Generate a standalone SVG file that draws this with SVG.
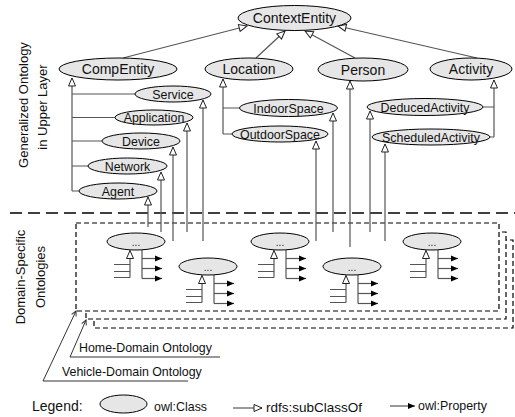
<svg xmlns="http://www.w3.org/2000/svg" width="515" height="417" viewBox="0 0 515 417">
<defs>
<style>
text{font-family:"Liberation Sans",Arial,sans-serif;fill:#111}
.n ellipse, ellipse.n{fill:#e6e6e6;stroke:#000;stroke-width:1}
.b{font-size:14px;text-anchor:middle}
.s{font-size:12.4px;text-anchor:middle}
.lab{font-size:13px;text-anchor:middle}
.dots{font-size:10px;text-anchor:middle}
.c line,.c path,.d line,.d path{stroke:#555;stroke-width:1.2;fill:none}
.box{fill:#fff;stroke:#000;stroke-width:1.2;stroke-dasharray:5,3}
.sep{stroke:#000;stroke-width:1.3;stroke-dasharray:12,6}
.ptr{stroke:#333;stroke-width:1;fill:none}
</style>
<marker id="tri" viewBox="-9 -5 10 10" markerWidth="10" markerHeight="10" refX="0" refY="0" orient="auto" markerUnits="userSpaceOnUse" overflow="visible">
<path d="M0,0 L-8,-3.5 L-8,3.5 Z" fill="#fff" stroke="#222" stroke-width="1"/>
</marker>
<marker id="arr" viewBox="-8 -4 9 8" markerWidth="9" markerHeight="8" refX="0" refY="0" orient="auto" markerUnits="userSpaceOnUse" overflow="visible">
<path d="M0,0 L-7,-3 L-7,3 Z" fill="#000" stroke="none"/>
</marker>
<marker id="open" viewBox="-7 -4 8 8" markerWidth="8" markerHeight="8" refX="0" refY="0" orient="auto" markerUnits="userSpaceOnUse" overflow="visible">
<path d="M-5,-2.5 L0,0 L-5,2.5" fill="none" stroke="#333" stroke-width="1"/>
</marker>
</defs>
<rect width="515" height="417" fill="#fff"/>

<!-- side labels -->
<g id="label-upper">
<text class="lab" transform="translate(28,105) rotate(-90)">Generalized Ontology</text>
<text class="lab" transform="translate(46.5,107) rotate(-90)">in Upper Layer</text>
</g>
<g id="label-domain">
<text class="lab" transform="translate(25,277) rotate(-90)">Domain-Specific</text>
<text class="lab" transform="translate(44.5,277) rotate(-90)">Ontologies</text>
</g>

<!-- separator -->
<line class="sep" x1="10" y1="213" x2="515" y2="213"/>

<!-- domain boxes -->
<g id="domain-boxes">
<rect class="box" x="94" y="240" width="419" height="88"/>
<rect class="box" x="86" y="232" width="420" height="87"/>
<rect class="box" x="76" y="223" width="423" height="88"/>
</g>

<!-- connectors -->
<g id="connectors" class="c">
<line x1="123" y1="58" x2="247" y2="26" marker-end="url(#tri)"/>
<line x1="256" y1="58" x2="285" y2="31" marker-end="url(#tri)"/>
<line x1="355" y1="58" x2="305" y2="31" marker-end="url(#tri)"/>
<line x1="477" y1="58" x2="338" y2="26" marker-end="url(#tri)"/>
<!-- CompEntity tree -->
<line x1="72" y1="191" x2="72" y2="78" marker-end="url(#tri)"/>
<path d="M72,94 H135 M72,117.5 H115 M72,141 H102 M72,166 H88 M72,191 H79"/>
<!-- Location tree -->
<line x1="223" y1="134" x2="223" y2="79" marker-end="url(#tri)"/>
<path d="M223,108 H240 M223,134 H232"/>
<!-- Activity tree -->
<line x1="494" y1="137" x2="494" y2="80" marker-end="url(#tri)"/>
<path d="M494,107 H483 M494,137 H490"/>
<!-- domain to upper -->
<line x1="148" y1="227" x2="148" y2="197" marker-end="url(#tri)"/>
<line x1="161" y1="232" x2="161" y2="172" marker-end="url(#tri)"/>
<line x1="173" y1="241" x2="173" y2="147" marker-end="url(#tri)"/>
<line x1="187" y1="232" x2="187" y2="123" marker-end="url(#tri)"/>
<line x1="203" y1="241" x2="203" y2="100" marker-end="url(#tri)"/>
<line x1="316" y1="241" x2="316" y2="141" marker-end="url(#tri)"/>
<line x1="333" y1="232" x2="333" y2="113" marker-end="url(#tri)"/>
<line x1="350" y1="247" x2="350" y2="81" marker-end="url(#tri)"/>
<line x1="370" y1="232" x2="370" y2="111" marker-end="url(#tri)"/>
<line x1="385" y1="241" x2="385" y2="144" marker-end="url(#tri)"/>
</g>

<!-- upper nodes -->
<g id="ContextEntity" class="n"><ellipse cx="294.5" cy="18" rx="56.5" ry="12.5"/><text class="b" x="294.5" y="23">ContextEntity</text></g>
<g id="CompEntity" class="n"><ellipse cx="118" cy="69" rx="59" ry="11"/><text class="b" x="118" y="74">CompEntity</text></g>
<g id="Location" class="n"><ellipse cx="249" cy="69" rx="44" ry="11"/><text class="b" x="249" y="74">Location</text></g>
<g id="Person" class="n"><ellipse cx="363" cy="69.5" rx="45" ry="11.5"/><text class="b" x="363" y="74.5">Person</text></g>
<g id="Activity" class="n"><ellipse cx="471" cy="69" rx="41" ry="11"/><text class="b" x="471" y="74">Activity</text></g>
<g id="Service" class="n"><ellipse cx="173" cy="94" rx="38" ry="8"/><text class="s" x="173" y="98.5">Service</text></g>
<g id="Application" class="n"><ellipse cx="154" cy="117.5" rx="39" ry="7.5"/><text class="s" x="154" y="122">Application</text></g>
<g id="Device" class="n"><ellipse cx="141" cy="141" rx="39" ry="8"/><text class="s" x="141" y="145.5">Device</text></g>
<g id="Network" class="n"><ellipse cx="127.5" cy="166" rx="39.5" ry="8"/><text class="s" x="127.5" y="170.5">Network</text></g>
<g id="Agent" class="n"><ellipse cx="118" cy="191" rx="39" ry="8"/><text class="s" x="118" y="195.5">Agent</text></g>
<g id="IndoorSpace" class="n"><ellipse cx="288.5" cy="108" rx="49" ry="8.5"/><text class="s" x="288.5" y="112.5">IndoorSpace</text></g>
<g id="OutdoorSpace" class="n"><ellipse cx="280" cy="134" rx="48" ry="8"/><text class="s" x="280" y="138.5">OutdoorSpace</text></g>
<g id="DeducedActivity" class="n"><ellipse cx="425" cy="107" rx="58" ry="8.5"/><text class="s" x="425" y="111.5">DeducedActivity</text></g>
<g id="ScheduledActivity" class="n"><ellipse cx="431" cy="137" rx="59" ry="8"/><text class="s" x="431" y="141.5">ScheduledActivity</text></g>

<!-- domain nodes -->
<g id="dom1" class="d n" transform="translate(136,241.5)">
<line x1="-6" y1="36" x2="-6" y2="9" marker-end="url(#tri)"/><path d="M-22,23 H-6 M-22,30 H-6 M-22,36 H-6"/>
<line x1="6" y1="8" x2="6" y2="37"/><line x1="6" y1="17" x2="26" y2="17" marker-end="url(#arr)"/><line x1="6" y1="27" x2="26" y2="27" marker-end="url(#arr)"/><line x1="6" y1="37" x2="26" y2="37" marker-end="url(#arr)"/>
<ellipse rx="29" ry="8.5"/><text class="dots" y="4">...</text></g>
<g id="dom2" class="d n" transform="translate(208,266.5)">
<line x1="-6" y1="36" x2="-6" y2="9" marker-end="url(#tri)"/><path d="M-22,23 H-6 M-22,30 H-6 M-22,36 H-6"/>
<line x1="6" y1="8" x2="6" y2="37"/><line x1="6" y1="17" x2="26" y2="17" marker-end="url(#arr)"/><line x1="6" y1="27" x2="26" y2="27" marker-end="url(#arr)"/><line x1="6" y1="37" x2="26" y2="37" marker-end="url(#arr)"/>
<ellipse rx="29" ry="8.5"/><text class="dots" y="4">...</text></g>
<g id="dom3" class="d n" transform="translate(280,241.5)">
<line x1="-6" y1="36" x2="-6" y2="9" marker-end="url(#tri)"/><path d="M-22,23 H-6 M-22,30 H-6 M-22,36 H-6"/>
<line x1="6" y1="8" x2="6" y2="37"/><line x1="6" y1="17" x2="26" y2="17" marker-end="url(#arr)"/><line x1="6" y1="27" x2="26" y2="27" marker-end="url(#arr)"/><line x1="6" y1="37" x2="26" y2="37" marker-end="url(#arr)"/>
<ellipse rx="29" ry="8.5"/><text class="dots" y="4">...</text></g>
<g id="dom4" class="d n" transform="translate(352,266.5)">
<line x1="-6" y1="36" x2="-6" y2="9" marker-end="url(#tri)"/><path d="M-22,23 H-6 M-22,30 H-6 M-22,36 H-6"/>
<line x1="6" y1="8" x2="6" y2="37"/><line x1="6" y1="17" x2="26" y2="17" marker-end="url(#arr)"/><line x1="6" y1="27" x2="26" y2="27" marker-end="url(#arr)"/><line x1="6" y1="37" x2="26" y2="37" marker-end="url(#arr)"/>
<ellipse rx="29" ry="8.5"/><text class="dots" y="4">...</text></g>
<g id="dom5" class="d n" transform="translate(432,241.5)">
<line x1="-6" y1="36" x2="-6" y2="9" marker-end="url(#tri)"/><path d="M-22,23 H-6 M-22,30 H-6 M-22,36 H-6"/>
<line x1="6" y1="8" x2="6" y2="37"/><line x1="6" y1="17" x2="26" y2="17" marker-end="url(#arr)"/><line x1="6" y1="27" x2="26" y2="27" marker-end="url(#arr)"/><line x1="6" y1="37" x2="26" y2="37" marker-end="url(#arr)"/>
<ellipse rx="29" ry="8.5"/><text class="dots" y="4">...</text></g>

<!-- domain labels -->
<g id="home-label">
<path class="ptr" d="M220,357 H70 L86,320" marker-end="url(#open)"/>
<text x="79" y="352" font-size="12.4">Home-Domain Ontology</text>
</g>
<g id="vehicle-label">
<path class="ptr" d="M188,381 H43 L76,311" marker-end="url(#open)"/>
<text x="62" y="376" font-size="12.4">Vehicle-Domain Ontology</text>
</g>

<!-- legend -->
<g id="legend">
<text x="32" y="410.5" font-size="14">Legend:</text>
<ellipse class="n" cx="123.5" cy="404" rx="23.5" ry="9"/>
<text x="154" y="411" font-size="12.4">owl:Class</text>
<line x1="233" y1="408" x2="262" y2="408" stroke="#555" stroke-width="1.2" marker-end="url(#tri)"/>
<text x="266" y="411.5" font-size="13.5">rdfs:subClassOf</text>
<line x1="390" y1="406" x2="415" y2="406" stroke="#555" stroke-width="1.2" marker-end="url(#arr)"/>
<text x="418" y="410" font-size="12.4">owl:Property</text>
</g>
</svg>
